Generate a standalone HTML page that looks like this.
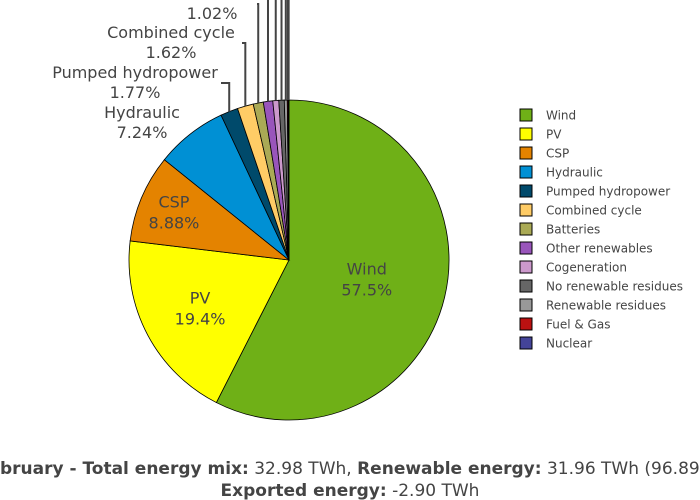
<!DOCTYPE html>
<html><head><meta charset="utf-8">
<style>
body{margin:0;background:#fff;}
svg{display:block;font-family:"DejaVu Sans","Liberation Sans",sans-serif;}
</style></head>
<body>
<svg id="chart" width="700" height="500" viewBox="0 0 700 500">
<g id="slices"></g>
<g id="labels"></g>
<g id="legend"></g>
<text x="350" y="474" text-anchor="middle" font-size="17" fill="#444"><tspan font-weight="bold">February - Total energy mix:</tspan> 32.98 TWh, <tspan font-weight="bold">Renewable energy:</tspan> 31.96 TWh (96.89%)</text>
<text x="350" y="496" text-anchor="middle" font-size="17" fill="#444"><tspan font-weight="bold">Exported energy:</tspan> -2.90 TWh</text>
</svg>
<script>
const categories=["Wind","PV","CSP","Hydraulic","Pumped hydropower","Combined cycle","Batteries","Other renewables","Cogeneration","No renewable residues","Renewable residues","Fuel & Gas","Nuclear"];
const values=[57.5,19.4,8.88,7.24,1.77,1.62,1.02,0.95,0.6,0.55,0.3,0.1,0.07];
const colors=["#6fb017","#ffff00","#e48300","#0090d4","#004a6b","#ffcc66","#aaaa55","#9955bb","#cc99cc","#666666","#999999","#bb1111","#444499"];
const NS="http://www.w3.org/2000/svg";
const cx=289,cy=260,R=160;
const insideR=[0.5,0.63,0.78];
const total=values.reduce((a,b)=>a+b,0);
const sl=document.getElementById('slices'),lb=document.getElementById('labels'),lg=document.getElementById('legend');
function pt(a,r){return [cx+r*Math.sin(a),cy-r*Math.cos(a)];}
function mk(tag,attrs,parent){const e=document.createElementNS(NS,tag);for(const k in attrs)e.setAttribute(k,attrs[k]);parent.appendChild(e);return e;}
let acc=0;
values.forEach((v,i)=>{
  const a0=acc/total*2*Math.PI;acc+=v;const a1=acc/total*2*Math.PI;
  const [x0,y0]=pt(a0,R),[x1,y1]=pt(a1,R);
  const large=(a1-a0)>Math.PI?1:0;
  const p=mk('path',{d:`M${cx},${cy}L${x0},${y0}A${R},${R} 0 ${large} 1 ${x1},${y1}Z`,fill:colors[i],stroke:'#000','stroke-width':0.8},sl);
  
  
  const am=(a0+a1)/2;
  const pct=(v/total*100);
  const pctTxt=pct>=10?pct.toFixed(1)+'%':pct.toFixed(2)+'%';
  if(i<=2){
    const [tx,ty]=pt(am,R*insideR[i]);
    const t=mk('text',{x:tx,y:ty-4,'text-anchor':'middle','font-size':16,fill:'#444'},lb);
    
    
    t.textContent=categories[i];
    const t2=mk('text',{x:tx,y:ty+17,'text-anchor':'middle','font-size':16,fill:'#444'},lb);
    
    
    t2.textContent=pctTxt;
  } else {
    const [ex,ey]=pt(am,R);
    if(i===3){
      const t=mk('text',{x:142,y:118,'text-anchor':'middle','font-size':16,fill:'#444'},lb);
      t.textContent=categories[i];
      const t2=mk('text',{x:142,y:138,'text-anchor':'middle','font-size':16,fill:'#444'},lb);
      t2.textContent=pctTxt;
    } else {
      const pos={4:[135,78,221,83],5:[171,38,242,43],6:[212,-1,257,4]}[i];
      if(pos){
        const t=mk('text',{x:pos[0],y:pos[1],'text-anchor':'middle','font-size':16,fill:'#444'},lb);
        t.textContent=categories[i];
        const t2=mk('text',{x:pos[0],y:pos[1]+20,'text-anchor':'middle','font-size':16,fill:'#444'},lb);
        t2.textContent=pctTxt;
        const l=mk('path',{d:`M${ex},${ey}L${ex},${pos[3]}L${pos[2]},${pos[3]}`,fill:'none',stroke:'#444','stroke-width':2},lb);
        
      } else {
        const l=mk('path',{d:`M${ex},${ey}L${ex},0`,fill:'none',stroke:'#444','stroke-width':2},lb);
        
      }
    }
  }
  const ly=115+i*19;
  const g=mk('g',{},lg);
  
  
  mk('rect',{x:520,y:ly-6,width:12,height:12,fill:colors[i],stroke:'#000','stroke-width':1},g);
  const lt=mk('text',{x:546,y:ly+4.5,'font-size':12,fill:'#444'},g);
  lt.textContent=categories[i];
});
</script>
</body></html>
